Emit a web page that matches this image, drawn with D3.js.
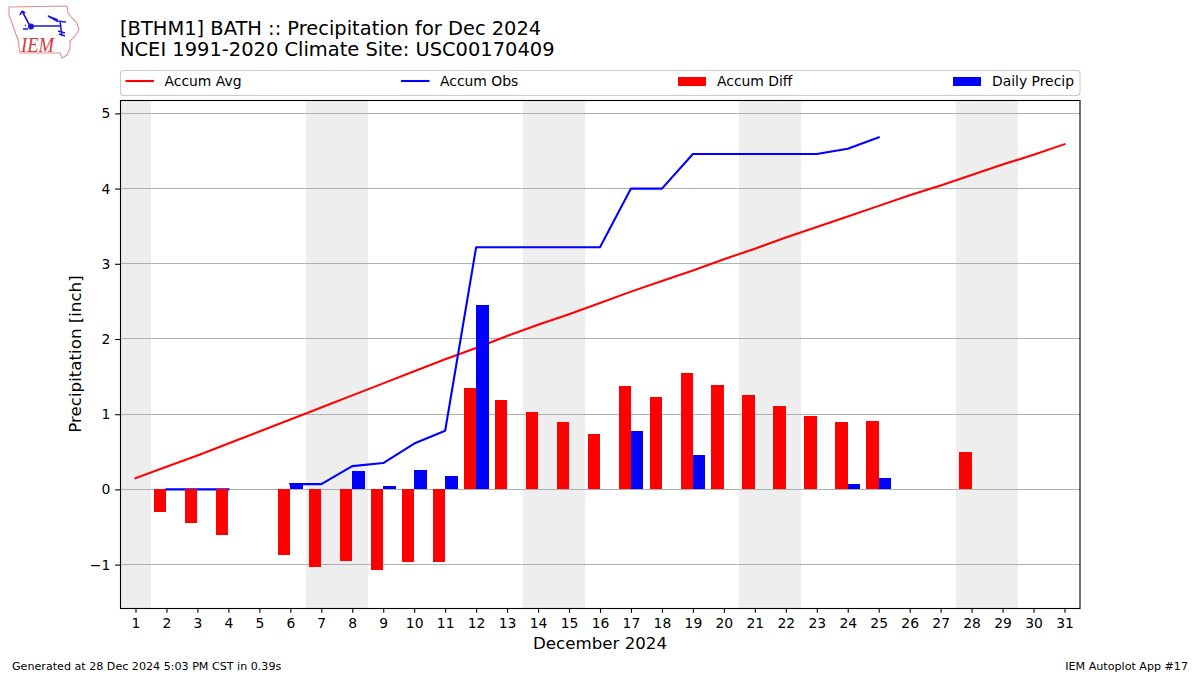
<!DOCTYPE html>
<html><head><meta charset="utf-8">
<script src="https://cdn.jsdelivr.net/npm/d3@7"></script>
<style>html,body{margin:0;padding:0;background:#fff}svg{display:block}text{font-family:"DejaVu Sans",sans-serif;fill:#000}</style>
</head><body><svg id="c" width="1200" height="675"></svg>
<script>
const days = d3.range(1, 32);
const accumAvg = [0.15,0.30,0.45,0.61,0.77,0.93,1.09,1.25,1.41,1.57,1.73,1.88,2.04,2.19,2.33,2.48,2.63,2.77,2.91,3.06,3.20,3.35,3.49,3.63,3.77,3.91,4.04,4.18,4.32,4.45,4.59];
const accumObs = [null,0,0,0,null,0.07,0.07,0.31,0.35,0.61,0.78,3.22,3.22,3.22,3.22,3.22,4.00,4.00,4.46,4.46,4.46,4.46,4.46,4.53,4.68,null,null,null,null,null,null];
const accumDiff = [null,-0.30,-0.45,-0.61,null,-0.87,-1.03,-0.95,-1.07,-0.97,-0.97,1.35,1.19,1.03,0.90,0.74,1.38,1.23,1.55,1.39,1.25,1.11,0.97,0.90,0.91,null,null,0.50,null,null,null];
const dailyPrecip = [null,0,0,0,null,0.07,0,0.24,0.04,0.26,0.18,2.45,0,0,0,0,0.78,0,0.46,0,0,0,0,0.07,0.15,null,null,null,null,null,null];
const weekends = [[0.5,1.5],[6.5,8.5],[13.5,15.5],[20.5,22.5],[27.5,29.5]];
const yTicks = [-1,0,1,2,3,4,5];
const legendItems = [["Accum Avg","line","#ff0000"],["Accum Obs","line","#0000ff"],["Accum Diff","bar","#ff0000"],["Daily Precip","bar","#0000ff"]];
const legendX = [125.5,401,678,953];
const titleLines = ["[BTHM1] BATH :: Precipitation for Dec 2024","NCEI 1991-2020 Climate Site: USC00170409"];

const svg = d3.select("#c");
const L=120,R=1080,T=100,B=608;
const x = d3.scaleLinear().domain([0.5,31.5]).range([L,R]);
const y = d3.scaleLinear().domain([-1.577,5.178]).range([B,T]);
const barW = x(0.4)-x(0);
const g = svg.append("g");

g.selectAll(".wk").data(weekends).join("rect").attr("x",d=>x(d[0])).attr("width",d=>x(d[1])-x(d[0]))
 .attr("y",T).attr("height",B-T).attr("fill","#eeeeee").attr("shape-rendering","crispEdges");
g.selectAll(".gr").data(yTicks).join("line").attr("x1",L).attr("x2",R).attr("y1",d=>Math.floor(y(d))+0.5).attr("y2",d=>Math.floor(y(d))+0.5)
 .attr("stroke","#b0b0b0").attr("stroke-width",1.1);
const mk = vals => d3.line().defined(d=>vals[d-1]!==null).x(d=>x(d)).y(d=>y(vals[d-1]))(days);
[[accumAvg,"#ff0000"],[accumObs,"#0000ff"]].forEach(([v,c])=>{
 g.append("path").attr("d",mk(v)).attr("fill","none").attr("stroke",c).attr("stroke-width",2.08)
  .attr("stroke-linejoin","round").attr("stroke-linecap","square");
});
const bar=(vals,off,c)=>g.append("g").selectAll("rect").data(days.filter(d=>vals[d-1]))
 .join("rect").attr("x",d=>x(d+off)).attr("width",barW)
 .attr("y",d=>Math.min(y(0),y(vals[d-1]))).attr("height",d=>Math.abs(y(vals[d-1])-y(0))).attr("fill",c).attr("shape-rendering","crispEdges");
bar(accumDiff,-0.4,"#ff0000");
bar(dailyPrecip,0,"#0000ff");

g.append("rect").attr("x",L+0.5).attr("y",T+0.5).attr("width",R-L-0.5).attr("height",B-T).attr("fill","none").attr("stroke","#000").attr("stroke-width",1.1);

const xAxis = d3.axisBottom(x).tickValues(days).tickFormat(d3.format("d")).tickSize(4.86).tickPadding(4.8);
const yAxis = d3.axisLeft(y).tickValues(yTicks).tickFormat(d=>d<0?"\u2212"+Math.abs(d):d).tickSize(4.86).tickPadding(4.8);
const ax = svg.append("g").attr("transform",`translate(0,${B})`).call(xAxis);
const ay = svg.append("g").attr("transform",`translate(${L},0)`).call(yAxis);
[ax,ay].forEach(a=>{a.select(".domain").remove();a.selectAll("line").attr("stroke","#000").attr("stroke-width",1.1);
 a.selectAll("text").attr("font-size",13.9).style("font-family",'"DejaVu Sans"');});

svg.append("text").attr("x",600).attr("y",649).attr("text-anchor","middle").attr("font-size",16.67).text("December 2024");
svg.append("text").attr("transform","translate(81,354) rotate(-90)").attr("text-anchor","middle").attr("font-size",16.67).text("Precipitation [inch]");
svg.selectAll(".tt").data(titleLines).join("text").attr("x",120).attr("y",(d,i)=>35+i*21.3).attr("font-size",19.45).text(d=>d);
svg.append("text").attr("x",12).attr("y",670).attr("font-size",11.11).text("Generated at 28 Dec 2024 5:03 PM CST in 0.39s");
svg.append("text").attr("x",1188).attr("y",670).attr("text-anchor","end").attr("font-size",11.11).text("IEM Autoplot App #17");

svg.append("rect").attr("x",120.5).attr("y",70.5).attr("width",959.5).attr("height",25).attr("rx",3).attr("fill","#fff").attr("stroke","#cccccc").attr("stroke-width",1.1);
const li = svg.selectAll(".li").data(legendItems).join("g").attr("transform",(d,i)=>`translate(${legendX[i]},0)`);
li.filter(d=>d[1]==="line").append("line").attr("x1",0).attr("x2",28.5).attr("y1",81).attr("y2",81).attr("stroke",d=>d[2]).attr("stroke-width",2.08);
li.filter(d=>d[1]==="bar").append("rect").attr("width",28).attr("height",9).attr("y",77).attr("fill",d=>d[2]);
li.append("text").attr("x",39).attr("y",86).attr("font-size",13.9).text(d=>d[0]);

const logo = svg.append("g");
logo.append("path").attr("d","M9 7 L67 6 L68 13 L72 18 L77 23 L79 30 L75 36 L70 41 L70 48 L67 55 L62 58 L60 53 L20 53 L18 40 L13 26 L9 15 Z")
 .attr("fill","none").attr("stroke","#e48f8f").attr("stroke-width",1.1);
logo.append("path").attr("d","M30 26 H60 M60 21 L62 36 M48 16 L57 21 L66 22 M30 26 L22 11 M22 11 L20 15 M22 11 L25 13 M58 31 L65 33 M59 34 L65 36")
 .attr("fill","none").attr("stroke","#1a1ad0").attr("stroke-width",1.6);
logo.append("path").attr("d","M47 15 L58 19 L57 22 Z").attr("fill","#1a1ad0");
logo.append("circle").attr("cx",31).attr("cy",26.5).attr("r",3).attr("fill","#1a1ad0");
logo.append("path").attr("d","M23 29 h5 M25 25.5 h1").attr("stroke","#1a1ad0").attr("stroke-width",1.6);
logo.append("text").attr("x",21).attr("y",52).attr("font-size",21).attr("textLength",33).attr("lengthAdjust","spacingAndGlyphs").attr("font-style","italic").style("font-family",'"Liberation Serif"').style("fill","#d8343c").text("IEM");
</script></body></html>
